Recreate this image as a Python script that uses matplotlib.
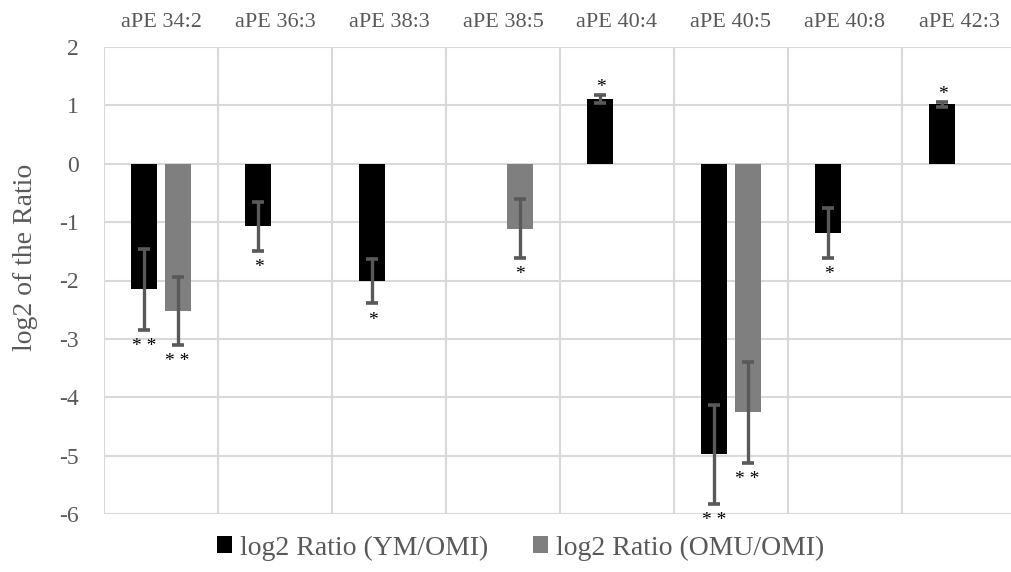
import numpy as np
import matplotlib.pyplot as plt
from matplotlib.patches import Patch

plt.rcParams['font.family'] = ['Liberation Serif', 'DejaVu Serif']
plt.rcParams['axes.unicode_minus'] = False

# data
lipids = ['aPE 34:2', 'aPE 36:3', 'aPE 38:3', 'aPE 38:5',
          'aPE 40:4', 'aPE 40:5', 'aPE 40:8', 'aPE 42:3']
ym_omi = [-2.15, -1.07, -2.01, np.nan, 1.11, -4.98, -1.18, 1.02]
ym_err = [0.69, 0.42, 0.38, np.nan, 0.07, 0.85, 0.43, 0.04]
omu_omi = [-2.52, np.nan, np.nan, -1.11, np.nan, -4.26, np.nan, np.nan]
omu_err = [0.58, np.nan, np.nan, 0.50, np.nan, 0.86, np.nan, np.nan]
ym_sig = ['**', '*', '*', '', '*', '**', '*', '*']
omu_sig = ['**', '', '', '*', '', '**', '', '']

grid_c = '#d9d9d9'
txt_c = '#595959'
err_c = '#595959'

fig = plt.figure(figsize=(10.11, 5.72), dpi=100)
ax = fig.add_axes([104 / 1011, 58 / 572, 912 / 1011, 467 / 572])

x = np.arange(len(lipids))
off = 0.145
w = 0.228

series = [
    (ym_omi, ym_err, ym_sig, -off, '#000000', 'log2 Ratio (YM/OMI)'),
    (omu_omi, omu_err, omu_sig, off, '#7f7f7f', 'log2 Ratio (OMU/OMI)'),
]

handles = []
for vals, errs, sig, dx, col, lab in series:
    vals = np.array(vals)
    errs = np.array(errs)
    ok = ~np.isnan(vals)
    ax.bar(x[ok] + dx, vals[ok], w, color=col, zorder=2)
    ax.errorbar(x[ok] + dx, vals[ok], yerr=errs[ok], fmt='none',
                ecolor=err_c, elinewidth=2.4, capsize=4, capthick=2.6,
                zorder=3)
    # significance stars just past the end of each error bar
    for xi, v, e, s in zip(x[ok] + dx, vals[ok], errs[ok], np.array(sig)[ok]):
        if not s:
            continue
        s = ' '.join(s)
        if v < 0:
            ax.annotate(s, (xi, v - e), xytext=(0, -6), textcoords='offset points',
                        ha='center', va='top', fontsize=14, color='black')
        else:
            ax.annotate(s, (xi, v + e), xytext=(0, -1), textcoords='offset points',
                        ha='center', va='bottom', fontsize=14, color='black')
    handles.append(Patch(facecolor=col, label=lab))

ax.set_xlim(-0.5, len(lipids) - 0.5)
ax.set_ylim(-6, 2)
ax.set_yticks(np.arange(-6, 3, 1))
ax.set_xticks(x)
ax.set_xticklabels(lipids, fontsize=16, color=txt_c)
ax.set_xticks(np.arange(-0.5, len(lipids), 1), minor=True)
ax.xaxis.tick_top()
ax.tick_params(axis='x', which='both', length=0, pad=11)
ax.tick_params(axis='y', length=0, pad=18, labelsize=17, labelcolor=txt_c)
ax.grid(axis='y', which='major', color=grid_c, linewidth=1.5, zorder=0)
ax.grid(axis='x', which='minor', color=grid_c, linewidth=1.5, zorder=0)
ax.set_axisbelow(True)
for sp in ax.spines.values():
    sp.set_visible(False)

ax.set_ylabel('log2 of the Ratio', fontsize=20, color=txt_c)
ax.yaxis.set_label_coords(-0.072, 0.55)

fig.legend(handles=handles, loc='center', bbox_to_anchor=(0.515, 24 / 572),
           ncol=2, frameon=False, fontsize=20, handlelength=0.55,
           handleheight=0.55, handletextpad=0.3, columnspacing=1.6,
           labelcolor=txt_c)

fig.savefig('out.png', dpi=100)
